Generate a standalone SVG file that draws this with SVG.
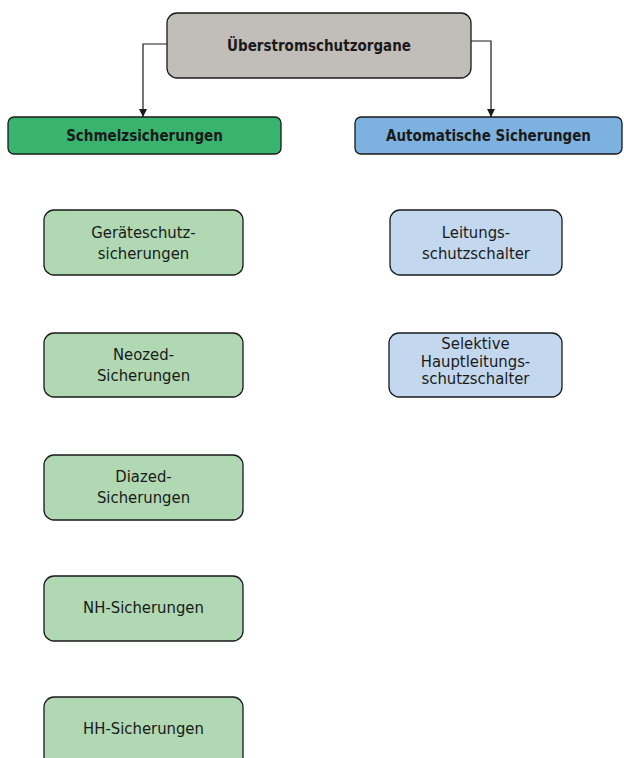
<svg xmlns="http://www.w3.org/2000/svg" width="624" height="758" viewBox="0 0 624 758">
<defs>
<style>
.box{stroke:#1a1a1a;stroke-width:1.3}
.t{font-family:"Liberation Sans Narrow","DejaVu Sans Condensed","Liberation Sans",sans-serif;fill:#1a1a1a;text-anchor:middle}
.h{font-size:15px;font-weight:bold}
.s{font-size:16.5px}
.conn{fill:none;stroke:#1a1a1a;stroke-width:1.2}
</style>
<marker id="arr" viewBox="0 0 10 10" refX="10" refY="5" markerWidth="8" markerHeight="12" markerUnits="userSpaceOnUse" orient="auto">
<path d="M0,0 L10,5 L0,10 z" fill="#1a1a1a"/>
</marker>
</defs>
<rect width="624" height="758" fill="#ffffff"/>
<g id="connectors">
<path class="conn" d="M167,44 H143 V117" marker-end="url(#arr)"/>
<path class="conn" d="M471,41 H491 V117" marker-end="url(#arr)"/>
</g>
<g id="root">
<rect class="box" x="167" y="13" width="304" height="65" rx="10" fill="#c1bdb9"/>
<text class="t h" x="319" y="51">Überstromschutzorgane</text>
</g>
<g id="schmelz">
<rect class="box" x="8" y="117" width="273" height="37" rx="6" fill="#38b46f"/>
<text class="t h" x="144.5" y="141">Schmelzsicherungen</text>
</g>
<g id="auto">
<rect class="box" x="355" y="117" width="267" height="37" rx="6" fill="#7db2e0"/>
<text class="t h" x="488.5" y="141">Automatische Sicherungen</text>
</g>
<g id="geraete">
<rect class="box" x="44" y="210" width="199" height="65" rx="10" fill="#afd8b3"/>
<text class="t s" x="143.5" y="238">Geräteschutz-</text>
<text class="t s" x="143.5" y="259">sicherungen</text>
</g>
<g id="neozed">
<rect class="box" x="44" y="333" width="199" height="64" rx="10" fill="#afd8b3"/>
<text class="t s" x="143.5" y="360">Neozed-</text>
<text class="t s" x="143.5" y="381">Sicherungen</text>
</g>
<g id="diazed">
<rect class="box" x="44" y="455" width="199" height="65" rx="10" fill="#afd8b3"/>
<text class="t s" x="143.5" y="482">Diazed-</text>
<text class="t s" x="143.5" y="503">Sicherungen</text>
</g>
<g id="nh">
<rect class="box" x="44" y="576" width="199" height="65" rx="10" fill="#afd8b3"/>
<text class="t s" x="143.5" y="613">NH-Sicherungen</text>
</g>
<g id="hh">
<rect class="box" x="44" y="697" width="199" height="70" rx="10" fill="#afd8b3"/>
<text class="t s" x="143.5" y="734">HH-Sicherungen</text>
</g>
<g id="leitung">
<rect class="box" x="390" y="210" width="172" height="65" rx="10" fill="#c3d8ef"/>
<text class="t s" x="476" y="238">Leitungs-</text>
<text class="t s" x="476" y="259">schutzschalter</text>
</g>
<g id="selektiv">
<rect class="box" x="389" y="333" width="173" height="64" rx="10" fill="#c3d8ef"/>
<text class="t s" x="475.5" y="349">Selektive</text>
<text class="t s" x="475.5" y="366.5">Hauptleitungs-</text>
<text class="t s" x="475.5" y="384">schutzschalter</text>
</g>
</svg>
